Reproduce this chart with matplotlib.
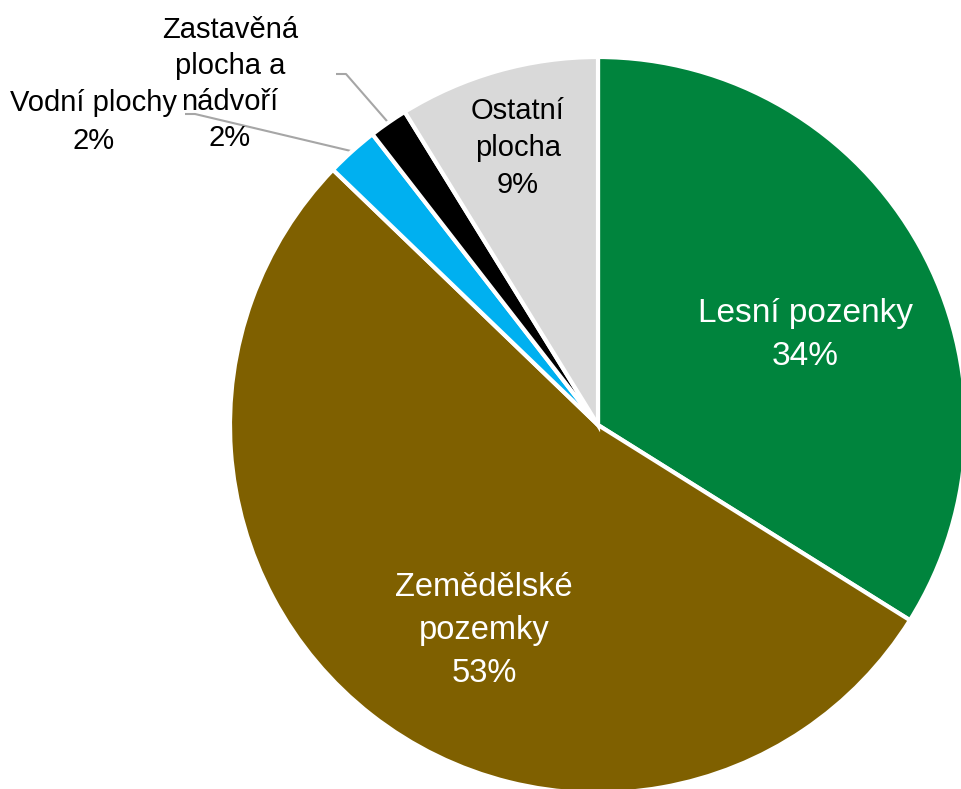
import numpy as np
import matplotlib
matplotlib.use("Agg")
import matplotlib.pyplot as plt

plt.rcParams['font.family'] = ['Liberation Sans', 'DejaVu Sans']

# data (shares of land area, %)
categories = ['Lesní pozenky', 'Zemědělské\npozemky', 'Vodní plochy',
              'Zastavěná\nplocha a\nnádvoří', 'Ostatní\nplocha']
values = [33.9, 53.3, 2.3, 1.7, 8.8]
pct_labels = ['34%', '53%', '2%', '2%', '9%']
colors = ['#00843D', '#7F6000', '#00B0F0', '#000000', '#D9D9D9']

W, H = 961, 789
fig = plt.figure(figsize=(W / 100, H / 100), dpi=100)
ax = fig.add_axes([0, 0, 1, 1])

cx, cy, r = 598, H - 425, 368
wedges, _ = ax.pie(values, colors=colors, startangle=90, counterclock=False,
                   center=(cx, cy), radius=r, frame=True,
                   wedgeprops=dict(edgecolor='white', linewidth=3))
ax.set_xlim(0, W)
ax.set_ylim(0, H)
ax.set_aspect('equal')
ax.axis('off')

# labels inside the slices: x, y (px from top), colour, size, line spacing
inside = {0: (805, 335, 'white', 24, 1.48),
          1: (484, 631, 'white', 23.5, 1.5),
          4: (518, 148, 'black', 21, 1.42)}
for i, (x, y, c, fs, ls) in inside.items():
    ax.text(x, H - y, categories[i] + '\n' + pct_labels[i],
            ha='center', va='center', fontsize=fs, color=c, linespacing=ls)

# small slices: labels outside with leader lines
outside = {2: (94, 122, 185, 114, 1.42), 3: (230, 84, 336, 74, 1.36)}
for i, (x, y, lx, ly, ls) in outside.items():
    ax.text(x, H - y, categories[i] + '\n' + pct_labels[i],
            ha='center', va='center', fontsize=21, color='black', linespacing=ls)
    w = wedges[i]
    mid = np.deg2rad((w.theta1 + w.theta2) / 2)
    ex, ey = cx + r * np.cos(mid), cy + r * np.sin(mid)
    ax.plot([lx, lx + 10, ex], [H - ly, H - ly, ey], color='#A6A6A6', lw=1.5,
            solid_capstyle='butt', zorder=0)

fig.savefig('out.png', dpi=100)
